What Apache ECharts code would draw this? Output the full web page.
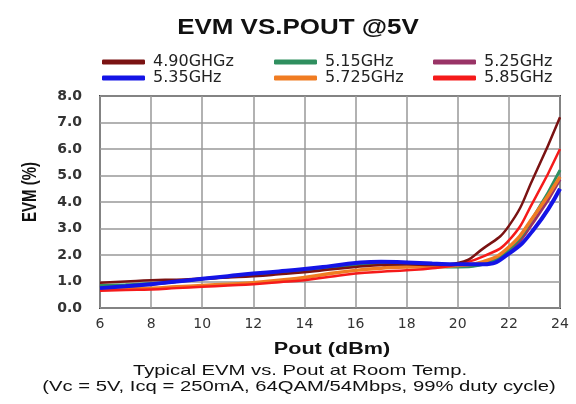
<!DOCTYPE html>
<html>
<head>
<meta charset="utf-8">
<script src="https://cdn.jsdelivr.net/npm/echarts@6/dist/echarts.min.js"></script>
<style>
  html, body { margin: 0; padding: 0; background: #fff; }
  #chart { width: 576px; height: 404px; }
</style>
</head>
<body>
<div id="chart"></div>
<script>
// Pout (dBm) sample points
const pout = [6, 7, 8, 9, 10, 11, 12, 13, 14, 15, 16, 17, 18, 19, 20, 21, 22, 23, 24]

// EVM (%)
const evm490 = [0.95, 1.0, 1.05, 1.07, 1.1, 1.15, 1.2, 1.27, 1.35, 1.45, 1.55, 1.62, 1.65, 1.62, 1.7, 2.25, 3.1, 5.0, 7.2]
const evm515 = [0.85, 0.88, 0.92, 1.0, 1.1, 1.18, 1.25, 1.33, 1.42, 1.52, 1.62, 1.65, 1.65, 1.58, 1.55, 1.65, 2.2, 3.5, 5.2]
const evm525 = [0.8, 0.85, 0.9, 1.0, 1.1, 1.18, 1.27, 1.35, 1.45, 1.55, 1.65, 1.7, 1.7, 1.65, 1.6, 1.7, 2.15, 3.3, 4.85]
const evm535 = [0.75, 0.82, 0.9, 1.0, 1.1, 1.2, 1.3, 1.38, 1.47, 1.58, 1.7, 1.75, 1.72, 1.68, 1.65, 1.65, 2.05, 3.0, 4.5]
const evm5725 = [0.7, 0.72, 0.75, 0.8, 0.85, 0.9, 0.95, 1.05, 1.15, 1.3, 1.42, 1.5, 1.55, 1.55, 1.6, 1.75, 2.3, 3.5, 4.95]
const evm585 = [0.65, 0.68, 0.7, 0.75, 0.8, 0.85, 0.9, 0.97, 1.05, 1.18, 1.3, 1.37, 1.42, 1.5, 1.65, 1.95, 2.55, 4.1, 6.0]

const seriesNames = ['4.90GHGz', '5.15GHz', '5.25GHz', '5.35GHz', '5.725GHz', '5.85GHz']
const seriesData = [evm490, evm515, evm525, evm535, evm5725, evm585]
const seriesColors = ['#7a1212', '#2f8f5f', '#993366', '#1414e6', '#f07c22', '#f51a1a']
const seriesWidths = [2.5, 3, 3, 4, 3.5, 2.5]
// draw order: which series end up on top
const drawOrder = [2, 1, 4, 5, 0, 3]

const FONT = 'Liberation Sans, Arial, sans-serif'
const WIDE = 'DejaVu Sans, sans-serif'
// the source picture is stretched sideways, so the free texts are too
const STRETCH = 1.35

const pair = (arr) => pout.map((x, i) => [x, arr[i]])

const series = drawOrder.map((idx) => ({
  name: seriesNames[idx],
  type: 'line',
  data: pair(seriesData[idx]),
  smooth: true,
  showSymbol: false,
  color: seriesColors[idx],
  lineStyle: { width: seriesWidths[idx], color: seriesColors[idx] },
  z: 2,
}))

const legendBase = {
  orient: 'vertical',
  top: 54,
  itemWidth: 43,
  itemHeight: 5,
  itemGap: 0,
  icon: 'roundRect',
  textStyle: { fontFamily: WIDE, fontSize: 16, lineHeight: 14, color: '#222', padding: [0, 0, 0, 3] },
  padding: 0,
}

const label = (text, x, y, size, bold, sx, extra) => Object.assign({
  type: 'text',
  x, y,
  scaleX: sx,
  style: {
    text,
    fontFamily: FONT,
    fontSize: size,
    fontWeight: bold ? 'bold' : 'normal',
    fill: '#111',
    textAlign: 'center',
    textVerticalAlign: 'middle',
  },
}, extra || {})

const chart = echarts.init(document.getElementById('chart'), null, { renderer: 'canvas' })
chart.setOption({
  animation: false,
  backgroundColor: '#fff',
  legend: [
    Object.assign({}, legendBase, { left: 102, data: ['4.90GHGz', '5.35GHz'] }),
    Object.assign({}, legendBase, { left: 274, data: ['5.15GHz', '5.725GHz'] }),
    Object.assign({}, legendBase, { left: 433, data: ['5.25GHz', '5.85GHz'] }),
  ],
  graphic: [
    label('EVM VS.POUT @5V', 298, 28, 22, true, 1.18),
    label('Pout (dBm)', 332, 350, 16, true, STRETCH),
    label('Typical EVM vs. Pout at Room Temp.', 300, 371, 15, false, STRETCH),
    label('(Vc = 5V, Icq = 250mA, 64QAM/54Mbps, 99% duty cycle)', 299, 387, 15, false, STRETCH),
    label('EVM (%)', 30, 192, 15, true, 1, { rotation: Math.PI / 2, scaleY: STRETCH }),
  ],
  grid: {
    left: 100, right: 16, top: 96, bottom: 96,
    show: true, borderColor: '#444', borderWidth: 2,
  },
  xAxis: {
    type: 'value', min: 6, max: 24, interval: 2,
    axisLine: { show: false },
    axisTick: { show: false },
    axisLabel: { fontFamily: WIDE, fontSize: 14, color: '#333', margin: 9 },
    splitLine: { show: true, lineStyle: { color: '#999', width: 1.5 } },
  },
  yAxis: {
    type: 'value', min: 0, max: 8, interval: 1,
    axisLine: { show: false },
    axisTick: { show: false },
    axisLabel: { fontFamily: WIDE, fontSize: 14, fontWeight: 'bold', color: '#333', margin: 18,
      formatter: (v) => v.toFixed(1) },
    splitLine: { show: true, lineStyle: { color: '#999', width: 1.5 } },
  },
  series,
})
</script>
</body>
</html>
